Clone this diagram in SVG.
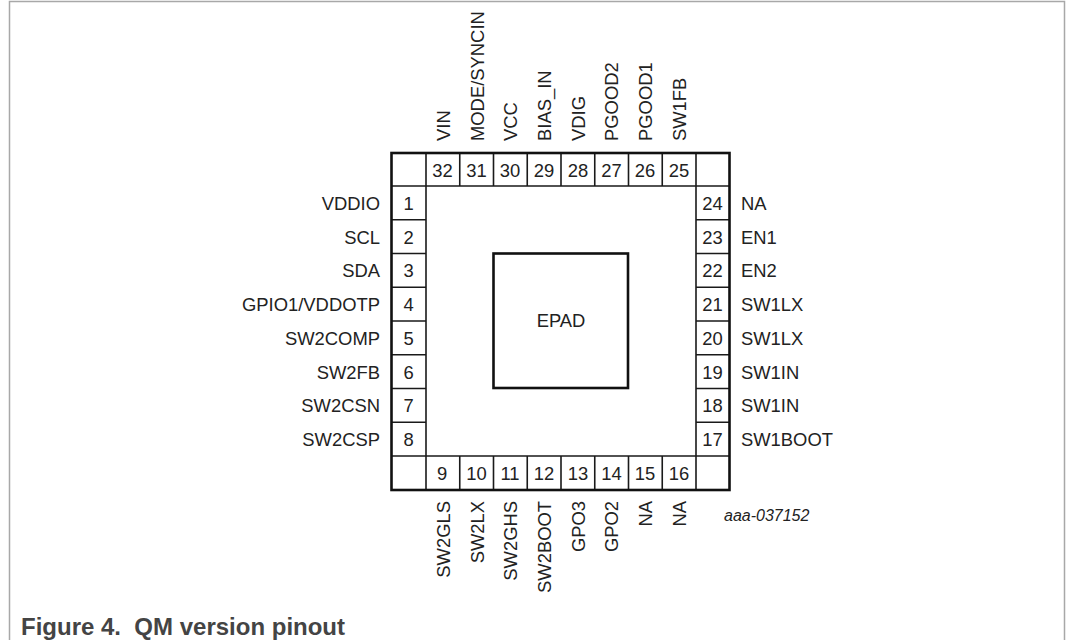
<svg xmlns="http://www.w3.org/2000/svg" width="1066" height="640" viewBox="0 0 1066 640">
<style>
text{font-family:"Liberation Sans",Arial,sans-serif;font-size:18.4px;fill:#222}
.n{text-anchor:middle}
.e{text-anchor:end}
.g{fill:none;stroke:#1a1a1a;stroke-width:1.6}
.o{fill:none;stroke:#111;stroke-width:2.6}
</style>
<rect width="1066" height="640" fill="#fff"/>
<path d="M9.5 640V1.5H1064.5V640" fill="none" stroke="#a8a8a8" stroke-width="1.5"/>
<g id="package">
<path class="g" d="M426 153V490M459.75 153V186M493.5 153V186M527.25 153V186M561 153V186M594.75 153V186M628.5 153V186M662.25 153V186M696 153V490M459.75 456V490M493.5 456V490M527.25 456V490M561 456V490M594.75 456V490M628.5 456V490M662.25 456V490"/>
<path class="g" d="M391.5 186H729.5M391.5 456H729.5M391.5 219.75H426M391.5 253.5H426M391.5 287.25H426M391.5 321H426M391.5 354.75H426M391.5 388.5H426M391.5 422.25H426M696 219.75H729.5M696 253.5H729.5M696 287.25H729.5M696 321H729.5M696 354.75H729.5M696 388.5H729.5M696 422.25H729.5"/>
<rect class="o" x="391.5" y="153" width="338" height="337"/>
</g>
<g id="epad"><rect class="o" x="493.5" y="253.5" width="134.5" height="134.5"/><text class="n" x="561" y="327">EPAD</text></g>
<g id="left-pins">
<text class="n" x="408.5" y="210">1</text><text class="e" x="380" y="210">VDDIO</text>
<text class="n" x="408.5" y="244">2</text><text class="e" x="380" y="244">SCL</text>
<text class="n" x="408.5" y="277">3</text><text class="e" x="380" y="277">SDA</text>
<text class="n" x="408.5" y="311">4</text><text class="e" x="380" y="311">GPIO1/VDDOTP</text>
<text class="n" x="408.5" y="345">5</text><text class="e" x="380" y="345">SW2COMP</text>
<text class="n" x="408.5" y="379">6</text><text class="e" x="380" y="379">SW2FB</text>
<text class="n" x="408.5" y="412">7</text><text class="e" x="380" y="412">SW2CSN</text>
<text class="n" x="408.5" y="446">8</text><text class="e" x="380" y="446">SW2CSP</text>
</g>
<g id="right-pins">
<text class="n" x="712.5" y="210">24</text><text x="741" y="210">NA</text>
<text class="n" x="712.5" y="244">23</text><text x="741" y="244">EN1</text>
<text class="n" x="712.5" y="277">22</text><text x="741" y="277">EN2</text>
<text class="n" x="712.5" y="311">21</text><text x="741" y="311">SW1LX</text>
<text class="n" x="712.5" y="345">20</text><text x="741" y="345">SW1LX</text>
<text class="n" x="712.5" y="379">19</text><text x="741" y="379">SW1IN</text>
<text class="n" x="712.5" y="412">18</text><text x="741" y="412">SW1IN</text>
<text class="n" x="712.5" y="446">17</text><text x="741" y="446">SW1BOOT</text>
</g>
<g id="top-pins">
<text class="n" x="442.5" y="177">32</text><text x="450" y="141" transform="rotate(-90 450 141)">VIN</text>
<text class="n" x="476.5" y="177">31</text><text x="484" y="141" transform="rotate(-90 484 141)">MODE/SYNCIN</text>
<text class="n" x="510" y="177">30</text><text x="517" y="141" transform="rotate(-90 517 141)">VCC</text>
<text class="n" x="544" y="177">29</text><text x="551" y="141" transform="rotate(-90 551 141)">BIAS_IN</text>
<text class="n" x="578" y="177">28</text><text x="585" y="141" transform="rotate(-90 585 141)">VDIG</text>
<text class="n" x="611.5" y="177">27</text><text x="618" y="141" transform="rotate(-90 618 141)">PGOOD2</text>
<text class="n" x="645" y="177">26</text><text x="652" y="141" transform="rotate(-90 652 141)">PGOOD1</text>
<text class="n" x="679" y="177">25</text><text x="686" y="141" transform="rotate(-90 686 141)">SW1FB</text>
</g>
<g id="bottom-pins">
<text class="n" x="442" y="480">9</text><text class="e" x="450" y="501" transform="rotate(-90 450 501)">SW2GLS</text>
<text class="n" x="476.5" y="480">10</text><text class="e" x="484" y="501" transform="rotate(-90 484 501)">SW2LX</text>
<text class="n" x="510" y="480">11</text><text class="e" x="517" y="501" transform="rotate(-90 517 501)">SW2GHS</text>
<text class="n" x="544" y="480">12</text><text class="e" x="551" y="501" transform="rotate(-90 551 501)">SW2BOOT</text>
<text class="n" x="578" y="480">13</text><text class="e" x="585" y="501" transform="rotate(-90 585 501)">GPO3</text>
<text class="n" x="611.5" y="480">14</text><text class="e" x="618" y="501" transform="rotate(-90 618 501)">GPO2</text>
<text class="n" x="645" y="480">15</text><text class="e" x="652" y="501" transform="rotate(-90 652 501)">NA</text>
<text class="n" x="679" y="480">16</text><text class="e" x="686" y="501" transform="rotate(-90 686 501)">NA</text>
</g>
<text x="724" y="521" style="font-size:16px;font-style:italic">aaa-037152</text>
<text x="21" y="635" xml:space="preserve" style="font-size:24px;font-weight:bold;fill:#444">Figure 4.  QM version pinout</text>
</svg>
